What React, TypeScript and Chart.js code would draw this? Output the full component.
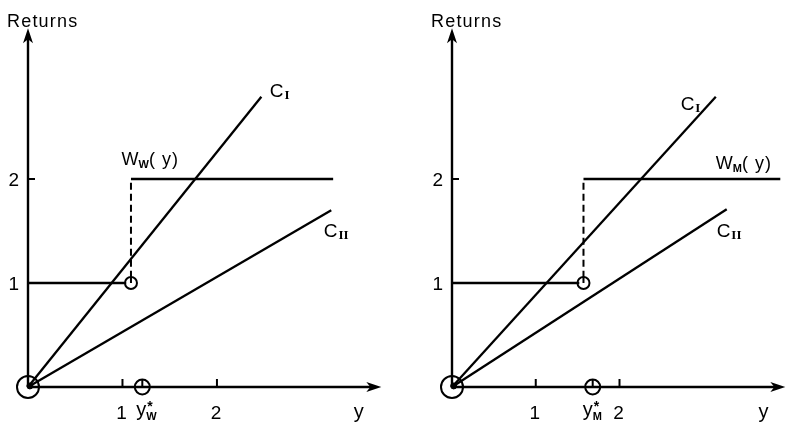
import React, { useEffect, useRef } from "react";
import { Chart, registerables } from "chart.js";

Chart.register(...registerables);

// ---------- data (values in chart units) ----------
const tickValues = [1, 2];
const tickLabels = ["1", "2"];
const lowReturn = 1;
const highReturn = 2;

// Left panel: W_W(y)
const leftCIx = [0, 2.47];
const leftCIy = [0, 2.79];
const leftCIIx = [0, 3.21];
const leftCIIy = [0, 1.7];
const leftStepX = 1.09;
const leftHighEnd = 3.23;
const leftYStar = 1.21;

// Right panel: W_M(y)
const rightCIx = [0, 3.15];
const rightCIy = [0, 2.79];
const rightCIIx = [0, 3.28];
const rightCIIy = [0, 1.71];
const rightStepX = 1.57;
const rightHighEnd = 3.92;
const rightYStar = 1.68;

// ---------- layout / style ----------
const INK = "#000";
const SANS = "'Liberation Sans', 'DejaVu Sans', sans-serif";
const SERIF = "'Liberation Serif', 'DejaVu Serif', serif";

type Seg = { t: string; size: number; dy?: number; dx?: number; bold?: boolean; family?: string; ls?: number };

function drawSegs(ctx: CanvasRenderingContext2D, x: number, y: number, segs: Seg[]) {
  let cx = x;
  for (const s of segs) {
    ctx.font = `${s.bold ? "bold " : ""}${s.size}px ${s.family ?? SANS}`;
    (ctx as any).letterSpacing = (s.ls ?? 0) + "px";
    cx += s.dx ?? 0;
    ctx.fillText(s.t, cx, y + (s.dy ?? 0));
    cx += ctx.measureText(s.t).width;
  }
  (ctx as any).letterSpacing = "0px";
}

interface PanelCfg {
  ciX: number[];
  ciY: number[];
  ciiX: number[];
  ciiY: number[];
  stepX: number;
  highEnd: number;
  yStar: number;
  xMax: number;
  xAxisEnd: number;
  padLeft: number;
  padRight: number;
  sub: string;
  ciLabel: [number, number];
  ciiLabel: [number, number];
  wLabel: [number, number];
  yLabelX: number;
  starShift: number;
}

const leftCfg: PanelCfg = {
  ciX: leftCIx, ciY: leftCIy, ciiX: leftCIIx, ciiY: leftCIIy,
  stepX: leftStepX, highEnd: leftHighEnd, yStar: leftYStar,
  xMax: 3.8, xAxisEnd: 3.74, padLeft: 28, padRight: 11, sub: "W",
  ciLabel: [2.56, 2.79], ciiLabel: [3.13, 1.44], wLabel: [0.99, 2.13], yLabelX: 3.5,
  starShift: -6,
};
const rightCfg: PanelCfg = {
  ciX: rightCIx, ciY: rightCIy, ciiX: rightCIIx, ciiY: rightCIIy,
  stepX: rightStepX, highEnd: rightHighEnd, yStar: rightYStar,
  xMax: 4.0, xAxisEnd: 3.98, padLeft: 52, padRight: 0, sub: "M",
  ciLabel: [2.73, 2.66], ciiLabel: [3.16, 1.44], wLabel: [3.15, 2.1], yLabelX: 3.72,
  starShift: -10,
};

const Y_MAX = 3.5;
const Y_AXIS_TOP = 3.45;

function pts(xs: number[], ys: number[]) {
  return xs.map((x, i) => ({ x, y: ys[i] }));
}

function lineDs(data: { x: number; y: number }[], width = 2.2, dash: number[] = []) {
  return {
    data,
    showLine: true,
    borderColor: INK,
    borderWidth: width,
    borderDash: dash,
    pointRadius: 0,
    clip: false as any,
  };
}

function circleDs(data: { x: number; y: number }[], r: number, fill = "rgba(0,0,0,0)", bw = 2) {
  return {
    data,
    showLine: false,
    pointRadius: r,
    pointBorderColor: INK,
    pointBackgroundColor: fill,
    pointBorderWidth: bw,
    pointHoverRadius: r,
    clip: false as any,
  };
}

function Panel({ cfg }: { cfg: PanelCfg }) {
  const ref = useRef<HTMLCanvasElement>(null);
  useEffect(() => {
    const decor = {
      id: "decor",
      afterDatasetsDraw(chart: any) {
        const ctx: CanvasRenderingContext2D = chart.ctx;
        const xs = chart.scales.x;
        const ys = chart.scales.y;
        const px = (v: number) => xs.getPixelForValue(v);
        const py = (v: number) => ys.getPixelForValue(v);
        const ox = px(0);
        const oy = py(0);
        ctx.save();
        ctx.fillStyle = INK;
        ctx.strokeStyle = INK;
        ctx.lineWidth = 2;
        // arrowheads
        const xt = px(cfg.xAxisEnd);
        ctx.beginPath();
        ctx.moveTo(xt, oy);
        ctx.lineTo(xt - 15, oy - 5);
        ctx.lineTo(xt - 11, oy);
        ctx.lineTo(xt - 15, oy + 5);
        ctx.closePath();
        ctx.fill();
        const yt = py(Y_AXIS_TOP);
        ctx.beginPath();
        ctx.moveTo(ox, yt);
        ctx.lineTo(ox - 5, yt + 15);
        ctx.lineTo(ox, yt + 11);
        ctx.lineTo(ox + 5, yt + 15);
        ctx.closePath();
        ctx.fill();
        // ticks
        ctx.lineWidth = 2;
        tickValues.forEach((v) => {
          ctx.beginPath();
          ctx.moveTo(px(v), oy - 8);
          ctx.lineTo(px(v), oy + 1);
          ctx.stroke();
          ctx.beginPath();
          ctx.moveTo(ox, py(v));
          ctx.lineTo(ox + 7, py(v));
          ctx.stroke();
        });
        // inner strokes of the small circles
        ctx.beginPath();
        ctx.moveTo(px(cfg.yStar), oy);
        ctx.lineTo(px(cfg.yStar), oy - 7);
        ctx.moveTo(px(cfg.stepX), py(lowReturn));
        ctx.lineTo(px(cfg.stepX), py(lowReturn) - 6);
        ctx.stroke();
        // tick labels
        ctx.textBaseline = "alphabetic";
        ctx.textAlign = "center";
        ctx.font = `19px ${SANS}`;
        tickValues.forEach((v, i) => {
          ctx.fillText(tickLabels[i], px(v) - 1, oy + 32);
        });
        ctx.textAlign = "right";
        tickValues.forEach((v, i) => {
          ctx.fillText(tickLabels[i], ox - 9, py(v) + 7);
        });
        ctx.textAlign = "left";
        // axis titles
        drawSegs(ctx, ox - 21, 27, [{ t: "Returns", size: 18, ls: 1.2 }]);
        ctx.textAlign = "center";
        ctx.font = `20px ${SANS}`;
        ctx.fillText("y", px(cfg.yLabelX), oy + 31);
        ctx.textAlign = "left";
        // y* label
        const sx = px(cfg.yStar) + cfg.starShift;
        drawSegs(ctx, sx, oy + 29, [{ t: "y", size: 20 }]);
        drawSegs(ctx, sx + 11, oy + 24, [{ t: "*", size: 14, bold: true }]);
        drawSegs(ctx, sx + 10, oy + 33, [{ t: cfg.sub, size: 11, bold: true }]);
        // curve labels
        drawSegs(ctx, px(cfg.ciLabel[0]), py(cfg.ciLabel[1]), [
          { t: "C", size: 19 },
          { t: "I", size: 13, dy: 2, bold: true, family: SERIF, dx: 1 },
        ]);
        drawSegs(ctx, px(cfg.ciiLabel[0]), py(cfg.ciiLabel[1]), [
          { t: "C", size: 19 },
          { t: "II", size: 13, dy: 2, bold: true, family: SERIF, dx: 1 },
        ]);
        drawSegs(ctx, px(cfg.wLabel[0]), py(cfg.wLabel[1]), [
          { t: "W", size: 18 },
          { t: cfg.sub, size: 11, dy: 3, bold: true },
          { t: "( y)", size: 18, ls: 1 },
        ]);
        ctx.restore();
      },
    };

    const chart = new Chart(ref.current!, {
      type: "scatter",
      data: {
        datasets: [
          lineDs([{ x: 0, y: 0 }, { x: cfg.xAxisEnd - 0.1, y: 0 }], 2.4),
          lineDs([{ x: 0, y: 0 }, { x: 0, y: Y_AXIS_TOP - 0.1 }], 2.4),
          lineDs(pts(cfg.ciX, cfg.ciY), 2.3),
          lineDs(pts(cfg.ciiX, cfg.ciiY), 2.3),
          lineDs([{ x: 0, y: lowReturn }, { x: cfg.stepX - 0.05, y: lowReturn }], 2.6),
          lineDs([{ x: cfg.stepX, y: lowReturn + 0.05 }, { x: cfg.stepX, y: highReturn }], 2, [7, 4]),
          lineDs([{ x: cfg.stepX, y: highReturn }, { x: cfg.highEnd, y: highReturn }], 2.6),
          circleDs([{ x: cfg.stepX, y: lowReturn }], 6),
          circleDs([{ x: 0, y: 0 }], 11),
          circleDs([{ x: 0.02, y: 0.01 }], 3, INK, 1),
          circleDs([{ x: cfg.yStar, y: 0 }], 7.5),
        ],
      } as any,
      options: {
        responsive: false,
        animation: false,
        events: [],
        layout: { padding: { left: cfg.padLeft, right: cfg.padRight, top: 23, bottom: 36 } },
        plugins: { legend: { display: false }, tooltip: { enabled: false } },
        scales: {
          x: { type: "linear", min: 0, max: cfg.xMax, display: false },
          y: { type: "linear", min: 0, max: Y_MAX, display: false },
        },
      },
      plugins: [decor],
    });
    return () => chart.destroy();
  }, [cfg]);
  return <canvas ref={ref} width={400} height={423} style={{ display: "block", width: 400, height: 423 }} />;
}

export default function App() {
  return (
    <div style={{ position: "absolute", left: 0, top: 0, width: 800, height: 423, display: "flex", background: "#fff" }}>
      <Panel cfg={leftCfg} />
      <Panel cfg={rightCfg} />
    </div>
  );
}
